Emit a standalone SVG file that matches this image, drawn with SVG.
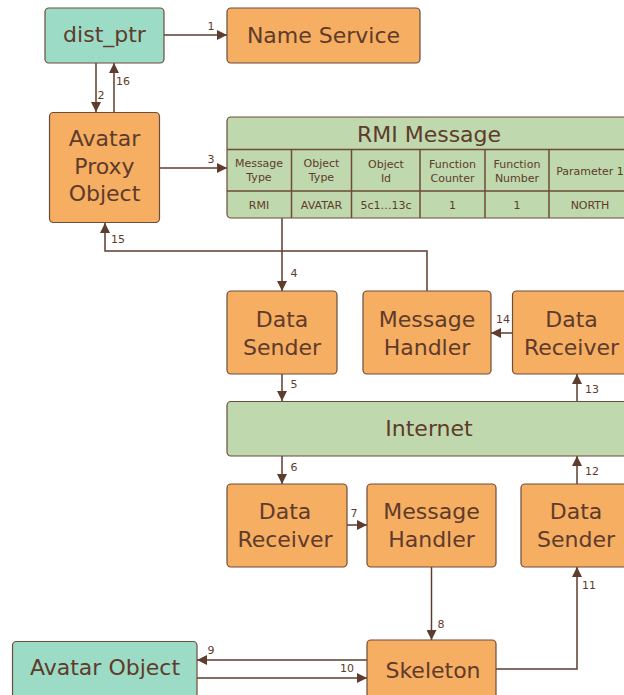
<svg xmlns="http://www.w3.org/2000/svg" width="624" height="695" viewBox="0 0 624 695">
  <style>
    .box { stroke: #6e4b3a; stroke-width: 1.2; }
    .orange { fill: #f5ae62; }
    .green { fill: #bfd8ae; }
    .teal { fill: #9cdcc6; }
    .t { font-family: "DejaVu Sans", sans-serif; fill: #5e3b2b; text-anchor: middle; }
    .big { font-size: 22px; }
    .small { font-size: 11px; }
    .lbl { font-family: "DejaVu Sans", sans-serif; font-size: 11px; fill: #5e3b2b; text-anchor: middle; }
    .edge { fill: none; stroke: #5e3d2e; stroke-width: 1.5; }
    .grid { stroke: #6e4b3a; stroke-width: 1.5; }
  </style>
  <defs>
    <marker id="arrow" viewBox="0 0 10 10" refX="10" refY="5" markerWidth="10" markerHeight="10" markerUnits="userSpaceOnUse" orient="auto">
      <path d="M0,0 L10,5 L0,10 z" fill="#5e3d2e"/>
    </marker>
  </defs>

  <!-- connectors -->
  <g id="connectors">
    <path class="edge" d="M164,35 H227" marker-end="url(#arrow)"/>
    <text class="lbl" x="211" y="30">1</text>
    <path class="edge" d="M96,63 V112" marker-end="url(#arrow)"/>
    <text class="lbl" x="101" y="99">2</text>
    <path class="edge" d="M114,112 V63" marker-end="url(#arrow)"/>
    <text class="lbl" x="123" y="85">16</text>
    <path class="edge" d="M160,168 H227" marker-end="url(#arrow)"/>
    <text class="lbl" x="211" y="163">3</text>
    <path class="edge" d="M282,218 V291" marker-end="url(#arrow)"/>
    <text class="lbl" x="294" y="277">4</text>
    <path class="edge" d="M427,291 V251 H105 V223" marker-end="url(#arrow)"/>
    <text class="lbl" x="118" y="243">15</text>
    <path class="edge" d="M282,374 V401" marker-end="url(#arrow)"/>
    <text class="lbl" x="294" y="388">5</text>
    <path class="edge" d="M577,401 V374" marker-end="url(#arrow)"/>
    <text class="lbl" x="592" y="393">13</text>
    <path class="edge" d="M512,333 H491" marker-end="url(#arrow)"/>
    <text class="lbl" x="503" y="323">14</text>
    <path class="edge" d="M282,456 V484" marker-end="url(#arrow)"/>
    <text class="lbl" x="294" y="471">6</text>
    <path class="edge" d="M577,484 V456" marker-end="url(#arrow)"/>
    <text class="lbl" x="592" y="475">12</text>
    <path class="edge" d="M347,525 H367" marker-end="url(#arrow)"/>
    <text class="lbl" x="354" y="517">7</text>
    <path class="edge" d="M431.5,567 V640" marker-end="url(#arrow)"/>
    <text class="lbl" x="441" y="628">8</text>
    <path class="edge" d="M496,669 H577 V567" marker-end="url(#arrow)"/>
    <text class="lbl" x="589" y="589">11</text>
    <path class="edge" d="M367,660 H197" marker-end="url(#arrow)"/>
    <text class="lbl" x="211" y="654">9</text>
    <path class="edge" d="M197,678 H367" marker-end="url(#arrow)"/>
    <text class="lbl" x="347" y="672">10</text>
  </g>

  <!-- nodes -->
  <g id="dist_ptr">
    <rect class="box teal" x="45" y="8" width="119" height="55" rx="4"/>
    <text class="t big" x="104.5" y="42">dist_ptr</text>
  </g>

  <g id="name_service">
    <rect class="box orange" x="227" y="8" width="193" height="55" rx="4"/>
    <text class="t big" x="323.5" y="43">Name Service</text>
  </g>

  <g id="avatar_proxy">
    <rect class="box orange" x="49.5" y="112.5" width="110" height="110" rx="4"/>
    <text class="t big" x="104.5" y="146">Avatar</text>
    <text class="t big" x="104.5" y="173.5">Proxy</text>
    <text class="t big" x="104.5" y="201">Object</text>
  </g>

  <g id="rmi_message">
    <rect class="box green" x="227" y="117" width="404" height="101" rx="4"/>
    <line class="grid" x1="227" y1="149.5" x2="631" y2="149.5"/>
    <line class="grid" x1="227" y1="191" x2="631" y2="191"/>
    <line class="grid" x1="291.5" y1="149.5" x2="291.5" y2="218"/>
    <line class="grid" x1="351.5" y1="149.5" x2="351.5" y2="218"/>
    <line class="grid" x1="420" y1="149.5" x2="420" y2="218"/>
    <line class="grid" x1="485" y1="149.5" x2="485" y2="218"/>
    <line class="grid" x1="549" y1="149.5" x2="549" y2="218"/>
    <text class="t big" x="429" y="142">RMI Message</text>
    <text class="t small" x="259" y="167">Message</text>
    <text class="t small" x="259" y="181">Type</text>
    <text class="t small" x="321.5" y="167">Object</text>
    <text class="t small" x="321.5" y="181">Type</text>
    <text class="t small" x="386" y="168">Object</text>
    <text class="t small" x="386" y="182">Id</text>
    <text class="t small" x="452.5" y="168">Function</text>
    <text class="t small" x="452.5" y="182">Counter</text>
    <text class="t small" x="517" y="168">Function</text>
    <text class="t small" x="517" y="182">Number</text>
    <text class="t small" x="590" y="175">Parameter 1</text>
    <text class="t small" x="259" y="209">RMI</text>
    <text class="t small" x="321.5" y="209">AVATAR</text>
    <text class="t small" x="386" y="209">5c1…13c</text>
    <text class="t small" x="452.5" y="209">1</text>
    <text class="t small" x="517" y="209">1</text>
    <text class="t small" x="590" y="209">NORTH</text>
  </g>

  <g id="data_sender_top">
    <rect class="box orange" x="227" y="291" width="110" height="83" rx="4"/>
    <text class="t big" x="282" y="327">Data</text>
    <text class="t big" x="282" y="354.5">Sender</text>
  </g>

  <g id="message_handler_top">
    <rect class="box orange" x="363" y="291" width="128" height="83" rx="4"/>
    <text class="t big" x="427" y="327">Message</text>
    <text class="t big" x="427" y="354.5">Handler</text>
  </g>

  <g id="data_receiver_top">
    <rect class="box orange" x="512.5" y="291" width="118" height="83" rx="4"/>
    <text class="t big" x="571.5" y="327">Data</text>
    <text class="t big" x="571.5" y="354.5">Receiver</text>
  </g>

  <g id="internet">
    <rect class="box green" x="227" y="401.5" width="404" height="54.5" rx="4"/>
    <text class="t big" x="429" y="436">Internet</text>
  </g>

  <g id="data_receiver_bottom">
    <rect class="box orange" x="227" y="484" width="120" height="83" rx="4"/>
    <text class="t big" x="285" y="519">Data</text>
    <text class="t big" x="285" y="547">Receiver</text>
  </g>

  <g id="message_handler_bottom">
    <rect class="box orange" x="367" y="484" width="129" height="83" rx="4"/>
    <text class="t big" x="431.5" y="519">Message</text>
    <text class="t big" x="431.5" y="547">Handler</text>
  </g>

  <g id="data_sender_bottom">
    <rect class="box orange" x="521" y="484" width="110" height="83" rx="4"/>
    <text class="t big" x="576" y="519">Data</text>
    <text class="t big" x="576" y="547">Sender</text>
  </g>

  <g id="avatar_object">
    <rect class="box teal" x="12.5" y="641.5" width="184.5" height="60" rx="4"/>
    <text class="t big" x="105" y="675">Avatar Object</text>
  </g>

  <g id="skeleton">
    <rect class="box orange" x="367" y="640" width="129" height="60" rx="4"/>
    <text class="t big" x="433" y="678">Skeleton</text>
  </g>
</svg>
